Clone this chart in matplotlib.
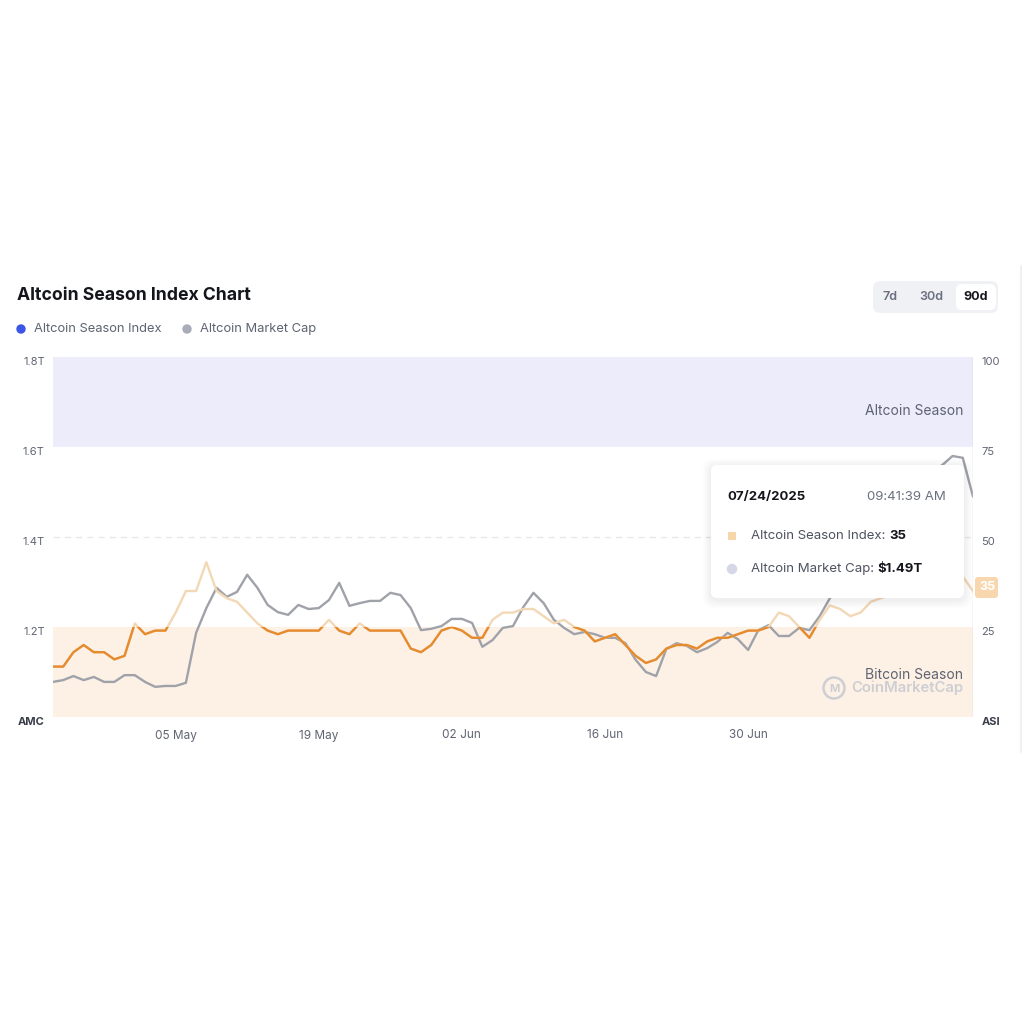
import numpy as np
import matplotlib
matplotlib.use("Agg")
import matplotlib.pyplot as plt
import matplotlib.transforms as mtransforms
from matplotlib.patches import Rectangle, FancyBboxPatch, Circle

plt.rcParams['font.family'] = ['Inter', 'DejaVu Sans']

# daily data, 23 Apr 2025 -> 22 Jul 2025
dates = np.arange(np.datetime64('2025-04-23'), np.datetime64('2025-07-23'))

# Altcoin Season Index (right axis, 0-100)
season_index = [14, 14, 18, 20, 18, 18, 16, 17, 26, 23, 24, 24, 29, 35, 35, 43,
                35, 33, 32, 29, 26, 24, 23, 24, 24, 24, 24, 27, 24, 23, 26, 24,
                24, 24, 24, 19, 18, 20, 24, 25, 24, 22, 22, 27, 29, 29, 30, 30,
                28, 26, 27, 25, 24, 21, 22, 23, 20, 17, 15, 16, 19, 20, 20, 19,
                21, 22, 22, 23, 24, 24, 25, 29, 28, 25, 22, 27, 31, 30, 28, 29,
                32, 33, 34, 35, 37, 38, 39, 39, 40, 39, 35]

# Altcoin market cap in trillions USD (left axis)
market_cap = [1.078, 1.082, 1.091, 1.082, 1.089, 1.078, 1.078, 1.093, 1.093, 1.078,
              1.067, 1.069, 1.069, 1.076, 1.187, 1.242, 1.287, 1.267, 1.278, 1.316,
              1.287, 1.249, 1.233, 1.227, 1.249, 1.240, 1.242, 1.260, 1.298, 1.247,
              1.253, 1.258, 1.258, 1.276, 1.271, 1.242, 1.193, 1.196, 1.202, 1.218,
              1.218, 1.209, 1.156, 1.171, 1.198, 1.202, 1.244, 1.276, 1.253, 1.216,
              1.198, 1.184, 1.189, 1.184, 1.176, 1.176, 1.164, 1.127, 1.100, 1.091,
              1.151, 1.164, 1.158, 1.144, 1.153, 1.167, 1.187, 1.173, 1.149, 1.193,
              1.204, 1.180, 1.180, 1.198, 1.193, 1.224, 1.264, 1.293, 1.327, 1.360,
              1.382, 1.416, 1.449, 1.482, 1.504, 1.527, 1.544, 1.560, 1.580, 1.576,
              1.490]

x_tick_dates = ['2025-05-05', '2025-05-19', '2025-06-02', '2025-06-16', '2025-06-30']
x_tick_labels = ['05 May', '19 May', '02 Jun', '16 Jun', '30 Jun']
left_ticks = [1.0, 1.2, 1.4, 1.6, 1.8]
left_labels = ['AMC', '1.2T', '1.4T', '1.6T', '1.8T']
right_ticks = [0, 25, 50, 75, 100]
right_labels = ['ASI', '25', '50', '75', '100']

dark_orange = '#e68a2e'
light_orange = '#f3d8b6'
gray_line = '#a0a2a9'
label_col = '#5f6472'

W = 1024


def fx(px):
    return px / W


def fy(py):
    return 1 - py / W


fig = plt.figure(figsize=(10.24, 10.24), dpi=100)
fig.patch.set_facecolor('white')

ax = fig.add_axes([fx(53), fy(717), fx(973) - fx(53), fy(357) - fy(717)])
ax2 = ax.twinx()

x = dates.astype('datetime64[D]').astype(object)

# season bands (drawn on left axis, aligned with 0-25 / 75-100)
ax.axhspan(1.0, 1.2, color='#fdf1e6', lw=0, zorder=0)
ax.axhspan(1.6, 1.8, color='#ececfb', lw=0, zorder=0)
ax.axhline(1.4, color='#e6e7ec', lw=0.9, ls=(0, (5, 4)), zorder=0.5)

ax.plot(x, market_cap, color=gray_line, lw=1.7, zorder=2,
        solid_joinstyle='round', solid_capstyle='round')
ax.set_ylim(1.0, 1.8)
ax.set_xlim(x[0], x[-1])

# season index: light above 25, dark inside the bitcoin season band
ax2.plot(x, season_index, color=light_orange, lw=1.7, zorder=2, solid_joinstyle='round')
dark, = ax2.plot(x, season_index, color=dark_orange, lw=1.7, zorder=3,
                 solid_joinstyle='round')
clip_tr = mtransforms.blended_transform_factory(ax2.transAxes, ax2.transData)
dark.set_clip_path(Rectangle((0, -5), 1, 30, transform=clip_tr))
ax2.set_ylim(0, 100)
ax2.axvline(x[-1], color='#d4d5da', lw=1.0, zorder=4)

for a in (ax, ax2):
    for s in a.spines.values():
        s.set_visible(False)

ax.set_yticks(left_ticks)
ax.set_yticklabels(left_labels)
ax2.set_yticks(right_ticks)
ax2.set_yticklabels(right_labels)
ax.tick_params(axis='y', length=0, pad=6, labelsize=8, labelcolor=label_col)
ax2.tick_params(axis='y', length=0, pad=6, labelsize=8, labelcolor=label_col)
for lbl in ax.get_yticklabels() + ax2.get_yticklabels():
    lbl.set_va('top')
for lbl in (ax.get_yticklabels()[0], ax2.get_yticklabels()[0]):
    lbl.set_fontweight('bold')
    lbl.set_color('#3a3e4a')

ax.set_xticks([np.datetime64(d).astype(object) for d in x_tick_dates])
ax.set_xticklabels(x_tick_labels)
ax.tick_params(axis='x', length=0, pad=9, labelsize=8.5, labelcolor=label_col)

ax.text(0.989, 0.85, 'Altcoin Season', transform=ax.transAxes, ha='right',
        va='center', fontsize=10, color=label_col)
ax.text(0.989, 0.118, 'Bitcoin Season', transform=ax.transAxes, ha='right',
        va='center', fontsize=10, color=label_col)
ax.text(0.989, 0.08, 'CoinMarketCap', transform=ax.transAxes, ha='right',
        va='center', fontsize=10.7, color='#cdced3', fontweight='semibold')
fig.patches.append(Circle((fx(834), fy(688)), 10.5 / W, transform=fig.transFigure,
                          fill=False, ec='#cdced3', lw=1.8, zorder=3))
fig.text(fx(834), fy(689), 'M', ha='center', va='center', fontsize=8,
         color='#cdced3', fontweight='bold')

# title and legend
fig.text(fx(17), fy(296), 'Altcoin Season Index Chart', fontsize=12.7,
         fontweight='bold', color='#14161c', va='center')
fig.patches.append(Circle((fx(21), fy(329)), 4 / W, transform=fig.transFigure,
                          color='#3b55e6', zorder=3))
fig.text(fx(34), fy(329), 'Altcoin Season Index', fontsize=9.3, color=label_col, va='center')
fig.patches.append(Circle((fx(187), fy(329)), 4 / W, transform=fig.transFigure,
                          color='#a9adba', zorder=3))
fig.text(fx(200), fy(329), 'Altcoin Market Cap', fontsize=9.3, color=label_col, va='center')

# range buttons
fig.patches.append(FancyBboxPatch((fx(873), fy(313)), fx(998) - fx(873), fy(281) - fy(313),
                                  boxstyle='round,pad=0,rounding_size=0.007',
                                  transform=fig.transFigure, fc='#eff1f5', ec='none', zorder=2))
fig.patches.append(FancyBboxPatch((fx(956), fy(310)), fx(996) - fx(956), fy(284) - fy(310),
                                  boxstyle='round,pad=0,rounding_size=0.006',
                                  transform=fig.transFigure, fc='white', ec='none', zorder=3))
fig.text(fx(890), fy(297), '7d', fontsize=9, color='#6b7080', ha='center', va='center',
         fontweight='semibold')
fig.text(fx(931), fy(297), '30d', fontsize=9, color='#6b7080', ha='center', va='center',
         fontweight='semibold')
fig.text(fx(976), fy(297), '90d', fontsize=9, color='#15171d', ha='center', va='center',
         fontweight='bold')

# tooltip with a soft shadow
for g in range(8, 0, -1):
    fig.patches.append(FancyBboxPatch((fx(711 - g), fy(600 + g)), fx(964 + g) - fx(711 - g),
                                      fy(465 - g + 2) - fy(600 + g),
                                      boxstyle='round,pad=0,rounding_size=0.01',
                                      transform=fig.transFigure, fc='#1a1f36', alpha=0.006,
                                      ec='none', zorder=5))
fig.patches.append(FancyBboxPatch((fx(711), fy(598)), fx(964) - fx(711), fy(465) - fy(598),
                                  boxstyle='round,pad=0,rounding_size=0.006',
                                  transform=fig.transFigure, fc='white', ec='none', zorder=6))
fig.text(fx(727), fy(497), '07/24/2025', fontsize=9.5, fontweight='bold', color='#14161c',
         va='center', zorder=7)
fig.text(fx(946), fy(497), '09:41:39 AM', fontsize=9.5, color='#6b7080', ha='right',
         va='center', zorder=7)
fig.patches.append(Rectangle((fx(728), fy(540)), 8 / W, 8 / W, transform=fig.transFigure,
                             fc='#f8d5aa', ec='none', zorder=7))
fig.text(fx(751), fy(536), 'Altcoin Season Index: ', fontsize=9.5, color='#4e5260',
         va='center', zorder=7)
fig.text(fx(889), fy(536), '35', fontsize=9.5, color='#14161c', fontweight='bold',
         va='center', zorder=7)
fig.patches.append(Circle((fx(732), fy(569)), 4.5 / W, transform=fig.transFigure,
                          color='#d6d7e6', zorder=7))
fig.text(fx(751), fy(569), 'Altcoin Market Cap: ', fontsize=9.5, color='#4e5260',
         va='center', zorder=7)
fig.text(fx(877), fy(569), '$1.49T', fontsize=9.5, color='#14161c', fontweight='bold',
         va='center', zorder=7)

# current value badge on right axis
fig.patches.append(FancyBboxPatch((fx(975), fy(598)), fx(998) - fx(975), fy(577) - fy(598),
                                  boxstyle='round,pad=0,rounding_size=0.003',
                                  transform=fig.transFigure, fc='#f8d6ae', ec='none', zorder=6))
fig.text(fx(987), fy(587.5), '35', fontsize=9, color='white', fontweight='bold',
         ha='center', va='center', zorder=7)

# screenshot edge
fig.add_artist(plt.Line2D([fx(1021), fx(1021)], [fy(266), fy(752)], color='#eeeeee',
                          lw=1.2, transform=fig.transFigure))

fig.savefig('out.png', dpi=100, facecolor='white')
